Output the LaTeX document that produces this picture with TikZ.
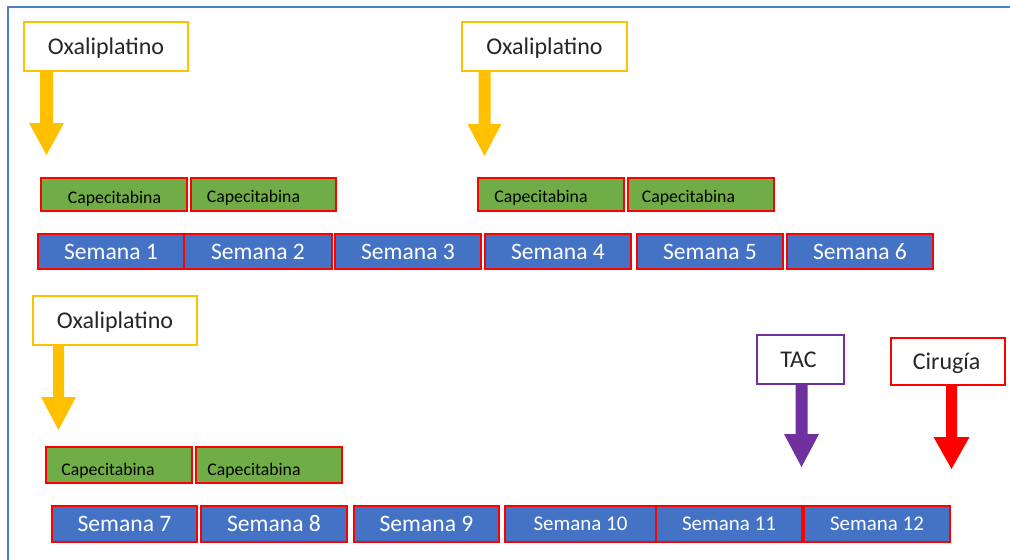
\documentclass[tikz,border=0pt]{standalone}
\usepackage{fontspec}
\setmainfont{Carlito}
\usetikzlibrary{fit,calc}
\definecolor{frameblue}{RGB}{79,125,205}
\definecolor{weekblue}{RGB}{68,114,196}
\definecolor{capgreen}{RGB}{112,173,71}
\definecolor{oxyellow}{RGB}{255,192,0}
\definecolor{tacpurple}{RGB}{112,48,160}
\definecolor{cirred}{RGB}{255,0,0}
\definecolor{labeltext}{RGB}{38,38,38}
% #1 colour, #2 node, #3 x centre, #4 head top, #5 tip, #6 shaft half width, #7 head half width (px)
\newcommand\blockarrow[7]{%
  \fill[#1] let \p1=(#2.south) in
    ({(#3-#6)*0.75pt},\y1) -- ({(#3+#6)*0.75pt},\y1) --
    ({(#3+#6)*0.75pt},{-#4*0.75pt}) -- ({(#3+#7)*0.75pt},{-#4*0.75pt}) --
    ({#3*0.75pt},{-#5*0.75pt}) --
    ({(#3-#7)*0.75pt},{-#4*0.75pt}) -- ({(#3-#6)*0.75pt},{-#4*0.75pt}) -- cycle;}
\begin{document}
\begin{tikzpicture}[x=0.75pt,y=-0.75pt,
  weekbox/.style={fill=weekblue, draw=cirred, line width=1.8pt, inner sep=0pt},
  weektext/.style={anchor=base, inner sep=0pt, yshift=-5.7pt, text=white,
    font=\fontsize{17.7}{20}\selectfont},
  weeksmall/.style={weektext, yshift=0.7pt, font=\fontsize{15.7}{18}\selectfont},
  capbox/.style={fill=capgreen, draw=cirred, line width=1.8pt, inner sep=0pt},
  captext/.style={anchor=base, inner sep=0pt, text=black, font=\fontsize{13.3}{15}\selectfont},
  labelbox/.style={fill=white, line width=1.5pt, inner sep=0pt},
  labeltxt/.style={anchor=base, inner sep=0pt, yshift=-5.8pt, text=labeltext,
    font=\fontsize{18}{21}\selectfont},
  oxbox/.style={labelbox, draw=oxyellow},
  tacbox/.style={labelbox, draw=tacpurple},
  cirbox/.style={labelbox, draw=cirred}]
\useasboundingbox (0,0) rectangle (1010,560);
\fill[white] (0,0) rectangle (1010,560);
\draw[frameblue, line width=1.5pt] (8,560) -- (8,7) -- (1010,7);

% label boxes
\node[oxbox, fit={(24,22)(188,71)}] (ox1) {};
\node[labeltxt] (ox1t) at (ox1.center) {Oxaliplatino};
\node[oxbox, fit={(462,22)(627,71)}] (ox2) {};
\node[labeltxt] (ox2t) at (ox2.center) {Oxaliplatino};
\node[oxbox, fit={(33,296)(197,345)}] (ox3) {};
\node[labeltxt] (ox3t) at (ox3.center) {Oxaliplatino};
\node[tacbox, fit={(757,335)(844,384)}] (tac) {};
\node[labeltxt] (tact) at ([xshift=-1.5pt]tac.center) {TAC};
\node[cirbox, fit={(891,338)(1005,385)}] (cir) {};
\node[labeltxt] (cirt) at ([xshift=-1pt]cir.center) {Cirugía};

% block arrows
\blockarrow{oxyellow}{ox1}{46.5}{123}{155}{6.5}{17.5}
\blockarrow{oxyellow}{ox2}{484.5}{124}{156}{6}{17}
\blockarrow{oxyellow}{ox3}{58.5}{397}{430}{5.5}{17.5}
\blockarrow{tacpurple}{tac}{801.5}{434}{467}{6}{17.5}
\blockarrow{cirred}{cir}{951.5}{437}{469}{5.5}{18}

% capecitabina
\node[capbox, fit={(41,178)(187,211)}] (c1) {};
\node[captext] (c1t) at (114.5,203) {Capecitabina};
\node[capbox, fit={(191,178)(336,211)}] (c2) {};
\node[captext] (c2t) at (253.5,202) {Capecitabina};
\node[capbox, fit={(478,178)(624,211)}] (c3) {};
\node[captext] (c3t) at (541,202) {Capecitabina};
\node[capbox, fit={(628,178)(774,211)}] (c4) {};
\node[captext] (c4t) at (688.5,202) {Capecitabina};
\node[capbox, fit={(46,447)(192,483)}] (c5) {};
\node[captext] (c5t) at (108,475) {Capecitabina};
\node[capbox, fit={(196,447)(342,483)}] (c6) {};
\node[captext] (c6t) at (254,475) {Capecitabina};

% weeks
\node[weekbox, fit={(38,234)(184,269)}] (s1) {};
\node[weektext] (s1t) at (s1.center) {Semana 1};
\node[weekbox, fit={(184,234)(332,269)}] (s2) {};
\node[weektext] (s2t) at (s2.center) {Semana 2};
\node[weekbox, fit={(335,234)(481,269)}] (s3) {};
\node[weektext] (s3t) at (s3.center) {Semana 3};
\node[weekbox, fit={(485,234)(631,269)}] (s4) {};
\node[weektext] (s4t) at (s4.center) {Semana 4};
\node[weekbox, fit={(637,234)(783,269)}] (s5) {};
\node[weektext] (s5t) at (s5.center) {Semana 5};
\node[weekbox, fit={(787,234)(933,269)}] (s6) {};
\node[weektext] (s6t) at (s6.center) {Semana 6};
\node[weekbox, fit={(52,506)(197,542)}] (s7) {};
\node[weektext] (s7t) at (s7.center) {Semana 7};
\node[weekbox, fit={(201,506)(347,542)}] (s8) {};
\node[weektext] (s8t) at (s8.center) {Semana 8};
\node[weekbox, fit={(354,506)(499,542)}] (s9) {};
\node[weektext] (s9t) at (s9.center) {Semana 9};
\node[weekbox, fit={(505,506)(656,542)}] (s10) {};
\node[weeksmall] (s10t) at (s10.center) {Semana 10};
\node[weekbox, fit={(656,506)(802,542)}] (s11) {};
\node[weeksmall] (s11t) at (s11.center) {Semana 11};
\node[weekbox, fit={(804,506)(950,542)}] (s12) {};
\node[weeksmall] (s12t) at (s12.center) {Semana 12};
\end{tikzpicture}
\end{document}
